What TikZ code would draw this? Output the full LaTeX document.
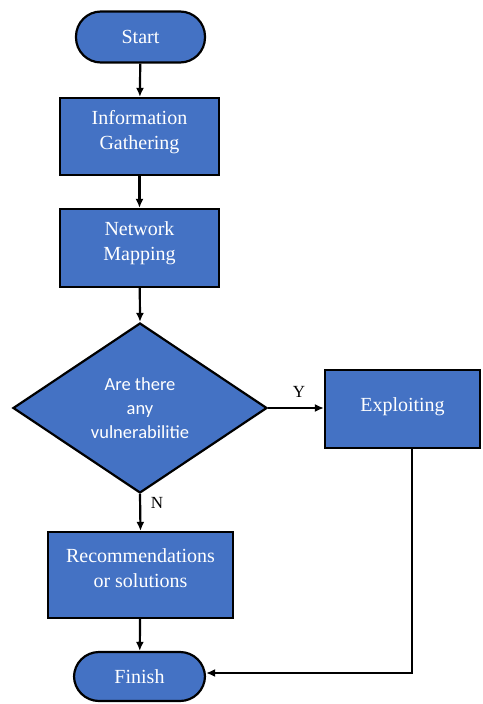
\documentclass[tikz,border=0pt]{standalone}
\usepackage{fontspec}
\setmainfont{Liberation Serif}
\newfontfamily\serfont{Liberation Serif}
\newfontfamily\calfont{Carlito}
\usetikzlibrary{shapes.geometric,arrows.meta}
\definecolor{boxblue}{HTML}{4472C4}
\newcommand{\liftxt}[2]{\raisebox{#1}[\height][\depth]{\begin{tabular}{@{}c@{}}#2\end{tabular}}}
\begin{document}
\begin{tikzpicture}[x=1pt,y=-1pt,
  base/.style={draw=black,line width=2.2pt,fill=boxblue,text=white,inner sep=0pt,
    font=\serfont\fontsize{20}{25}\selectfont},
  term/.style={base,rectangle,rounded corners=25pt},
  procbox/.style={base,rectangle},
  decide/.style={base,diamond,aspect=1.494,font=\calfont\fontsize{18.5}{24}\selectfont,align=center},
  conn/.style={line width=2.2pt,-{Latex[length=9pt,width=8pt]}},
  lbl/.style={font=\serfont\fontsize{17}{20}\selectfont,inner sep=0pt}]
\useasboundingbox (0,0) rectangle (482,704);
\node[term,minimum width=129pt,minimum height=51pt] (start) at (140.5,37) {Start};
\node[procbox,minimum width=159pt,minimum height=77pt] (info) at (139.5,136.5) {\liftxt{5pt}{Information\\Gathering}};
\node[procbox,minimum width=159pt,minimum height=78pt] (net) at (139.5,248) {\liftxt{5pt}{Network\\Mapping}};
\node[decide,minimum width=254pt,minimum height=170pt] (dec) at (140,408) {Are there\\any\\vulnerabilitie};
\node[procbox,minimum width=155pt,minimum height=78pt] (exp) at (402.5,409) {\liftxt{3pt}{Exploiting}};
\node[procbox,minimum width=185pt,minimum height=86pt] (rec) at (140.5,575) {\liftxt{5pt}{Recommendations\\or solutions}};
\node[term,minimum width=131pt,minimum height=49pt] (fin) at (139.5,676.5) {Finish};
\coordinate (turn) at (412,673);
\draw[conn] (start) -- (info);
\draw[conn] (info) -- (net);
\draw[conn] (net) -- (dec.north);
\draw[conn] (dec.east) -- (exp.west |- dec.east);
\draw[conn] (dec.south) -- (rec.north);
\draw[conn] (rec) -- (fin);
\draw[conn] (exp.south -| turn) -- (turn) -- (turn -| fin.east);
\node[lbl] (ylab) at (299,392) {Y};
\node[lbl] (nlab) at (157,503) {N};
\end{tikzpicture}
\end{document}
